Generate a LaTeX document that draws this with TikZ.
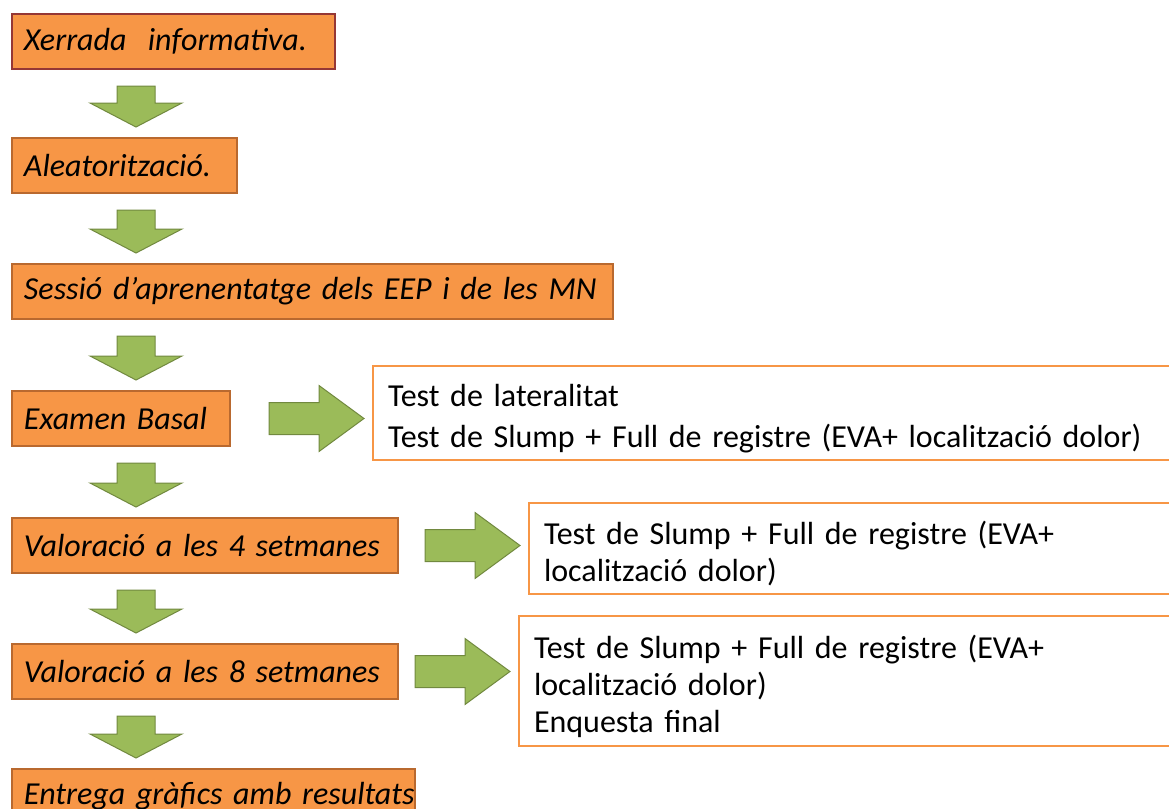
\documentclass[tikz,border=0pt]{standalone}
\usepackage{fontspec}
\setmainfont{Carlito}
\usepackage{tikz}
\usetikzlibrary{calc}
\definecolor{stepfill}{HTML}{F79646}
\definecolor{stepedge}{HTML}{B9692F}
\definecolor{firstedge}{HTML}{953735}
\definecolor{infoedge}{HTML}{F79646}
\definecolor{arrowfill}{HTML}{9BBB59}
\definecolor{arrowedge}{HTML}{71893F}

\tikzset{
  stepbox/.style={draw=stepedge,fill=stepfill,line width=1pt,anchor=north west,
    minimum height=27.5pt,inner xsep=6pt,align=left,
    font=\fontsize{16}{19}\selectfont\itshape},
  infobox/.style={draw=infoedge,fill=white,line width=1pt,anchor=north west,
    inner xsep=7.5pt,align=left,font=\fontsize{16}{18.5}\selectfont},
  blockarrow/.style={fill=arrowfill,draw=arrowedge,line width=0.5pt,line join=miter}
}
\newcommand{\lowstrut}{\rule{0pt}{17pt}}

% green block arrows between boxes
\newcommand{\downblock}[2]{%
  \filldraw[blockarrow] let \p1=(#1.south west), \p2=(#2.north west) in
    (\x1+53pt,\y1-8pt) -- (\x1+72pt,\y1-8pt) -- (\x1+72pt,\y2+17pt)
    -- (\x1+85.5pt,\y2+17pt) -- (\x1+62.5pt,\y2+5pt) -- (\x1+39.5pt,\y2+17pt)
    -- (\x1+53pt,\y2+17pt) -- cycle;}
\newcommand{\sideblock}[2]{%
  \filldraw[blockarrow] let \p1=(#1.east), \p2=(#2.west) in
    (\x2-51.5pt,\y1+8pt) -- (\x2-26.5pt,\y1+8pt) -- (\x2-26.5pt,\y1+16.5pt)
    -- (\x2-4pt,\y1) -- (\x2-26.5pt,\y1-16.5pt) -- (\x2-26.5pt,\y1-8pt)
    -- (\x2-51.5pt,\y1-8pt) -- cycle;}

\begin{document}
\begin{tikzpicture}[x=0.5pt,y=-0.5pt]
  \useasboundingbox (0,0) rectangle (1169,809);
  \clip (0,0) rectangle (1169,809);

  % steps
  \node[stepbox,draw=firstedge,text width=149.5pt] (s1) at (11,13) {\mbox{Xerrada~ informativa.}};
  \node[stepbox,text width=100.5pt] (s2) at (11,137) {\mbox{Aleatorització.}};
  \node[stepbox,text width=288.5pt] (s3) at (11,263) {\mbox{Sessió d’aprenentatge dels EEP i de les MN}};
  \node[stepbox,text width=97pt] (s4) at (11,390) {\mbox{Examen Basal}};
  \node[stepbox,text width=181pt] (s5) at (11,517) {\mbox{Valoració a les 4 setmanes}};
  \node[stepbox,text width=181pt] (s6) at (11,643) {\mbox{Valoració a les 8 setmanes}};
  \node[stepbox,text width=189.5pt] (s7) at (11,768) {\mbox{Entrega gràfics amb resultats}};

  % side boxes
  \node[infobox,text width=389pt,minimum height=46.5pt,font=\fontsize{16}{20.5}\selectfont]
    (i4) at (372,365) {\lowstrut Test de lateralitat\\Test de Slump + Full de registre (EVA+ localització dolor)};
  \node[infobox,text width=311pt,minimum height=45.5pt]
    (i5) at (528,502) {\lowstrut Test de Slump + Full de registre (EVA+\\localització dolor)};
  \node[infobox,text width=316pt,minimum height=65pt]
    (i6) at (518,615) {\lowstrut Test de Slump + Full de registre (EVA+\\localització dolor)\\Enquesta final};

  \foreach \a/\b in {s1/s2,s2/s3,s3/s4,s4/s5,s5/s6,s6/s7}{\downblock{\a}{\b}}
  \foreach \a/\b in {s4/i4,s5/i5,s6/i6}{\sideblock{\a}{\b}}
\end{tikzpicture}
\end{document}
